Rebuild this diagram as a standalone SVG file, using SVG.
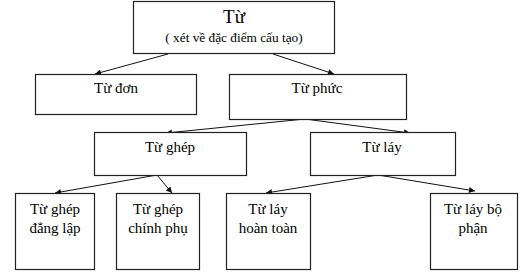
<svg xmlns="http://www.w3.org/2000/svg" width="522" height="280" viewBox="0 0 522 280">
<style>
.box{fill:#fff;stroke:#222;stroke-width:1.2}
.t{font-family:"Liberation Serif","Times New Roman",serif;font-size:15px;fill:#000;text-anchor:middle}
.big{font-size:19px}
.small{font-size:13.3px}
.c{stroke:#111;stroke-width:1;fill:none;marker-end:url(#ah)}
</style>
<defs>
<marker id="ah" viewBox="0 0 10 10" refX="10" refY="5" markerWidth="7" markerHeight="6" markerUnits="userSpaceOnUse" orient="auto">
<path d="M0,0 L10,5 L0,10 z" fill="#111"/>
</marker>
</defs>
<rect width="522" height="280" fill="#fff"/>
<g id="connectors">
<line class="c" x1="168" y1="54" x2="95" y2="74"/>
<line class="c" x1="273" y1="54" x2="334" y2="74"/>
<line class="c" x1="305" y1="119" x2="166" y2="133"/>
<line class="c" x1="305" y1="119" x2="410" y2="133"/>
<line class="c" x1="157" y1="175" x2="55" y2="193"/>
<line class="c" x1="157" y1="175" x2="172" y2="193"/>
<line class="c" x1="378" y1="175" x2="266" y2="193"/>
<line class="c" x1="378" y1="175" x2="475" y2="191"/>
</g>
<g id="tu">
<rect class="box" x="133.5" y="1.5" width="201" height="52"/>
<text class="t big" x="234" y="23">Từ</text>
<text class="t small" x="234" y="42">( xét về đặc điểm cấu tạo)</text>
</g>
<g id="tu-don">
<rect class="box" x="35.5" y="74.5" width="161" height="40"/>
<text class="t" x="116" y="93">Từ đơn</text>
</g>
<g id="tu-phuc">
<rect class="box" x="229.5" y="74.5" width="177" height="45"/>
<text class="t" x="317" y="93">Từ phức</text>
</g>
<g id="tu-ghep">
<rect class="box" x="94.5" y="132.5" width="152" height="43"/>
<text class="t" x="170" y="152">Từ ghép</text>
</g>
<g id="tu-lay">
<rect class="box" x="310.5" y="132.5" width="145" height="43"/>
<text class="t" x="382" y="152">Từ láy</text>
</g>
<g id="tu-ghep-dang-lap">
<rect class="box" x="15.5" y="193.5" width="79" height="76"/>
<text class="t" x="55" y="214">Từ ghép</text>
<text class="t" x="55" y="233">đẳng lập</text>
</g>
<g id="tu-ghep-chinh-phu">
<rect class="box" x="116.5" y="193.5" width="83" height="76"/>
<text class="t" x="158" y="214">Từ ghép</text>
<text class="t" x="158" y="233">chính phụ</text>
</g>
<g id="tu-lay-hoan-toan">
<rect class="box" x="226.5" y="193.5" width="84" height="76"/>
<text class="t" x="268" y="214">Từ láy</text>
<text class="t" x="268" y="233">hoàn toàn</text>
</g>
<g id="tu-lay-bo-phan">
<rect class="box" x="430.5" y="193.5" width="87" height="76"/>
<text class="t" x="473" y="214">Từ láy bộ</text>
<text class="t" x="473" y="233">phận</text>
</g>
</svg>
